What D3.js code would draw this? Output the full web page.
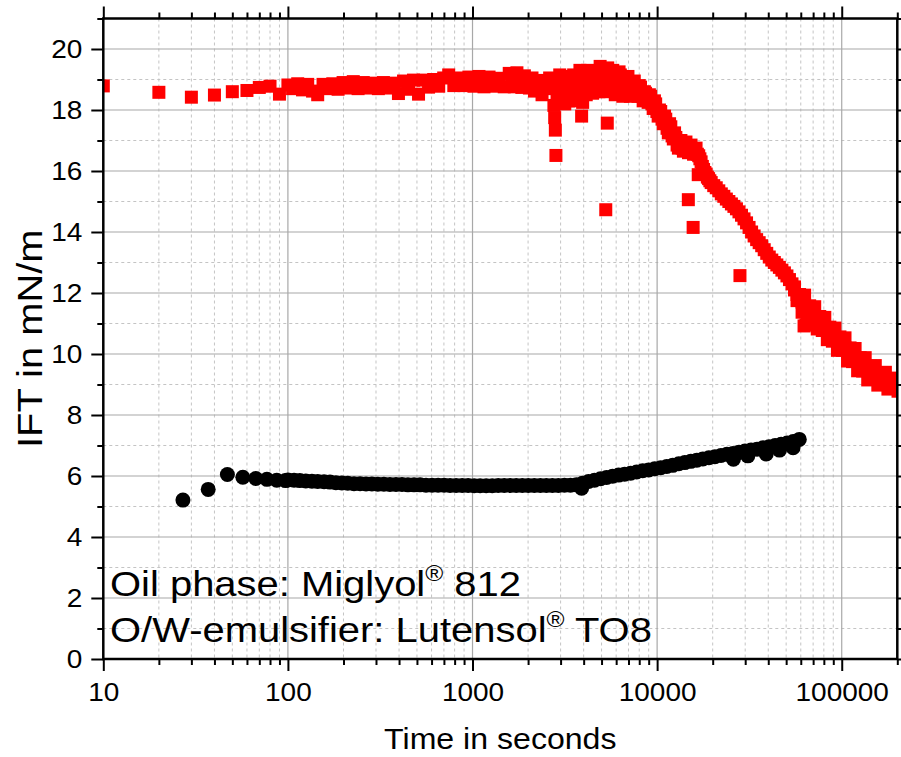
<!DOCTYPE html>
<html><head><meta charset="utf-8">
<script src="https://cdn.jsdelivr.net/npm/d3@7"></script>
<style>
body{margin:0;background:#fff}
svg{display:block}
text{font-family:"Liberation Sans",Arial,Helvetica,sans-serif;fill:#000}
</style>
</head><body>
<svg id="chart" width="901" height="757"></svg>
<script>
// ---------- data ----------
const xTickValues = [10, 100, 1000, 10000, 100000];
const xTickLabels = ["10", "100", "1000", "10000", "100000"];
const yTickValues = [0, 2, 4, 6, 8, 10, 12, 14, 16, 18, 20];
const yTickLabels = ["0", "2", "4", "6", "8", "10", "12", "14", "16", "18", "20"];
const xTitle = "Time in seconds";
const yTitle = "IFT in mN/m";
const note1 = ["Oil phase: Miglyol", "®", " 812"];
const note2 = ["O/W-emulsifier: Lutensol", "®", " TO8"];

// Miglyol 812 series (red squares): [time s, IFT mN/m]
const redSeries = [
 [10,18.79],[20,18.58],[30,18.42],[40,18.49],[50,18.60],[60,18.64],[70,18.74],[80,18.78],[90,18.52],
 [100,18.82],[106,18.70],[113,18.86],[120,18.66],[128,18.84],[136,18.62],[145,18.50],[155,18.84],
 [165,18.70],[175,18.86],[187,18.68],[199,18.90],[212,18.72],[226,18.93],[240,18.70],[256,18.90],
 [272,18.72],[290,18.88],[309,18.70],[329,18.90],[350,18.72],[373,18.88],[397,18.54],[423,18.95],
 [450,18.68],[479,18.98],[510,18.52],[543,18.98],[578,18.75],[616,19.00],[656,18.78],[698,19.05],
 [743,19.15],[792,18.80],[843,19.05],[898,18.80],[956,19.08],[1018,18.78],[1084,19.10],[1154,18.76],
 [1229,19.08],[1309,18.78],[1394,19.04],[1485,18.76],[1581,19.20],[1630,18.95],[1684,18.76],
 [1740,19.22],[1793,19.00],[1850,18.74],[1910,19.12],[1970,18.90],[2034,18.72],[2100,19.05],
 [2166,18.62],[2230,18.95],[2307,18.75],[2380,18.50],[2457,18.97],[2530,18.70],[2617,19.05],
 [2700,18.75],[2760,18.15],[2787,17.75],[2810,17.34],[2830,16.51],[2870,18.55],[2920,18.90],
 [2968,19.15],[3010,18.60],[3060,18.80],[3110,18.35],[3161,18.20],[3210,18.95],[3260,18.60],
 [3310,18.30],[3366,19.10],[3420,18.80],[3470,18.50],[3530,19.15],[3585,18.90],[3640,18.60],
 [3700,18.30],[3760,19.00],[3818,19.30],[3860,18.60],[3900,17.80],[3950,18.25],[4010,19.05],
 [4066,18.75],[4130,18.50],[4200,19.30],[4260,19.00],[4331,18.90],[4400,18.70],[4470,18.55],
 [4540,19.00],[4612,19.25],[4690,18.75],[4760,18.95],[4840,18.60],[4912,19.43],[4990,19.10],
 [5070,18.60],[5150,18.85],[5231,19.00],[5270,14.73],[5310,19.30],[5370,17.57],[5400,19.38],
 [5490,19.05],[5571,18.70],[5660,18.95],[5750,19.30],[5840,19.10],[5933,18.50],[6030,18.75],
 [6130,18.90],[6220,19.25],[6319,19.15],[6420,18.80],[6520,18.45],[6620,18.65],[6730,18.80],
 [6840,19.05],[6950,19.10],[7060,18.75],[7167,18.45],[7280,18.65],[7400,18.85],[7520,18.95],
 [7633,18.60],[7760,18.70],[7880,18.45],[8000,18.80],[8129,18.75],[8300,18.45],[8400,18.30],
 [8530,18.60],[8658,18.55],[8800,18.35],[8940,18.25],[9080,18.50],[9220,18.45],[9370,18.20],
 [9520,18.05],[9670,18.30],[9820,18.20],[9970,17.95],[10130,17.80],[10290,18.00],[10458,17.95],
 [10630,17.70],[10800,17.55],[10970,17.80],[11138,17.70],[11320,17.40],[11500,17.25],[11680,17.55],
 [11862,17.45],[12050,17.15],[12240,17.05],[12430,17.25],[12633,17.10],[12830,16.85],[13040,16.75],
 [13250,16.95],[13454,17.00],[13660,16.75],[13880,16.65],[14100,16.85],[14328,16.95],[14550,16.70],
 [14760,15.06],[14790,16.60],[15020,16.80],[15260,16.85],[15500,16.65],[15670,14.15],[15750,16.55],
 [16000,16.70],[16252,16.75],[16520,16.55],[16700,15.88],[16800,16.50],[17050,16.40],[17308,16.30],
 [17580,16.15],[17850,16.05],[18140,15.95],[18433,15.90],[18720,15.80],[19000,15.75],[19310,15.68],
 [19631,15.62],[20260,15.52],[20907,15.45],[21580,15.35],[22266,15.25],[22980,15.17],[23714,15.08],
 [24470,15.00],[25255,14.92],[26060,14.84],[26897,14.76],[27760,14.66],[28100,12.57],[28645,14.55],
 [29560,14.43],[30507,14.30],[31480,14.15],[32490,14.00],[33530,13.87],[34602,13.75],[35710,13.65],
 [36851,13.55],[38030,13.42],[39246,13.30],[40500,13.18],[41797,13.08],[43140,13.00],[44514,12.92],
 [45940,12.84],[47407,12.75],[48920,12.66],[50489,12.56],[52100,12.44],[53770,12.30],
 // late tail, scattered readings
 [55490,12.20],[57265,11.75],[59100,11.95],[60988,11.37],[62500,10.92],[62940,11.93],[64000,10.95],
 [64952,11.17],[66500,11.00],[67030,11.58],[69174,11.12],[71390,11.55],[73670,10.82],[76030,11.23],
 [78459,10.77],[80970,11.20],[83559,10.47],[86230,10.88],[88990,10.42],[91840,10.85],[94774,10.12],
 [97800,10.56],[100935,10.12],[104170,10.53],[107495,9.77],[110940,10.20],[114483,9.75],
 [118150,10.18],[121924,9.45],[125830,9.88],[129849,9.44],[134000,9.88],[138289,9.15],[142710,9.60],
 [147278,9.19],[151990,9.62],[156851,8.98],[161880,9.39],[167046,9.05],[172370,9.40],[177904,8.85],
 [183600,9.21],[189468,8.87],[195550,9.18],[201783,8.78],
 // late tail, central run
 [55490,12.10],[57265,11.95],[59100,11.80],[60988,11.70],[62940,11.60],[64952,11.50],[67030,11.40],
 [69174,11.30],[71390,11.22],[73670,11.15],[76030,11.05],[78459,10.95],[80970,10.87],[83559,10.80],
 [86230,10.70],[88990,10.60],[91840,10.52],[94774,10.45],[97800,10.38],[100935,10.30],[104170,10.20],
 [107495,10.10],[110940,10.02],[114483,9.93],[118150,9.85],[121924,9.78],[125830,9.70],[129849,9.62],
 [134000,9.55],[138289,9.48],[142710,9.42],[147278,9.37],[151990,9.32],[156851,9.28],[161880,9.24],
 [167046,9.20],[172370,9.15],[177904,9.10],[183600,9.06],[189468,9.02],[195550,8.98],[201783,8.95]
];

// Lutensol TO8 series (black circles): [time s, IFT mN/m]
const blackSeries = [
 [27,5.21],[37,5.56],[47,6.05],[57,5.96],[67,5.92],[77,5.89],[87,5.86],[97,5.85],
 [100,5.87],[108,5.86],[116,5.85],[125,5.84],[135,5.83],[145,5.82],[157,5.81],[169,5.80],[182,5.78],
 [196,5.77],[211,5.76],[228,5.75],[246,5.75],[265,5.74],[285,5.74],[307,5.73],[331,5.73],[357,5.72],
 [385,5.72],[415,5.72],[447,5.71],[482,5.71],[520,5.71],[560,5.70],[604,5.70],[651,5.70],[702,5.70],
 [756,5.69],[815,5.69],[879,5.69],[947,5.69],[1021,5.68],[1100,5.68],[1186,5.68],[1279,5.68],
 [1378,5.69],[1486,5.69],[1601,5.69],[1726,5.69],[1861,5.69],[2006,5.69],[2162,5.69],[2331,5.69],
 [2512,5.69],[2708,5.69],[2919,5.69],[3147,5.70],[3392,5.70],[3657,5.71],[3900,5.60],[3942,5.76],
 [4249,5.82],[4580,5.86],[4937,5.91],[5322,5.95],[5737,5.99],[6184,6.03],[6666,6.06],[7186,6.09],
 [7746,6.13],[8350,6.17],[9001,6.20],[9703,6.24],[10459,6.27],[11275,6.31],[12154,6.35],[13102,6.40],
 [14124,6.44],[15226,6.48],[16413,6.52],[17693,6.56],[19073,6.60],[20561,6.63],[22165,6.67],
 [23893,6.71],[25757,6.74],[25900,6.55],[27766,6.78],[29932,6.82],[31000,6.66],[32267,6.85],
 [34783,6.88],[37496,6.93],[39000,6.72],[40421,6.96],[43574,7.00],[46000,6.85],[46972,7.04],
 [50636,7.08],[54500,6.93],[54586,7.13],[58900,7.20]
];

// ---------- layout ----------
const plot = {left: 103.3, right: 897.3, top: 18.5, bottom: 659};
const FONT = '"Liberation Sans",Arial,sans-serif';
const svg = d3.select("#chart");

const x = d3.scaleLog().domain([10, 200000]).range([plot.left, plot.right]);
const y = d3.scaleLinear().domain([0, 21]).range([plot.bottom, plot.top]);

const xMinor = [];
for (let d = 10; d <= 100000; d *= 10) for (let k = 2; k <= 9; k++) if (d * k <= 200000) xMinor.push(d * k);
const yMinor = d3.range(1, 22, 2);

// grid
const grid = svg.append("g");
grid.selectAll(".gxm").data(xMinor.filter(v => v < 200000)).join("line")
  .attr("x1", d => x(d)).attr("x2", d => x(d)).attr("y1", plot.top).attr("y2", plot.bottom)
  .attr("stroke", "#c4c4c4").attr("stroke-width", 1).attr("stroke-dasharray", "3,3");
grid.selectAll(".gym").data(yMinor.filter(v => v < 21)).join("line")
  .attr("x1", plot.left).attr("x2", plot.right).attr("y1", d => y(d)).attr("y2", d => y(d))
  .attr("stroke", "#c4c4c4").attr("stroke-width", 1).attr("stroke-dasharray", "3,3");
grid.selectAll(".gxM").data(xTickValues.slice(1)).join("line")
  .attr("x1", d => x(d)).attr("x2", d => x(d)).attr("y1", plot.top).attr("y2", plot.bottom)
  .attr("stroke", "#a8a8a8").attr("stroke-width", 1.2);
grid.selectAll(".gyM").data(yTickValues.slice(1)).join("line")
  .attr("x1", plot.left).attr("x2", plot.right).attr("y1", d => y(d)).attr("y2", d => y(d))
  .attr("stroke", "#a8a8a8").attr("stroke-width", 1.2);

svg.append("clipPath").attr("id", "clip").append("rect")
  .attr("x", plot.left).attr("y", plot.top)
  .attr("width", plot.right - plot.left).attr("height", plot.bottom - plot.top);

const marks = svg.append("g").attr("clip-path", "url(#clip)");
const sq = 13;
marks.selectAll("rect.red").data(redSeries).join("rect").attr("class", "red")
  .attr("x", d => x(d[0]) - sq / 2).attr("y", d => y(d[1]) - sq / 2)
  .attr("width", sq).attr("height", sq).attr("fill", "#ff0000");
marks.selectAll("circle.blk").data(blackSeries).join("circle").attr("class", "blk")
  .attr("cx", d => x(d[0])).attr("cy", d => y(d[1])).attr("r", 7.5).attr("fill", "#000");

// axes
const fmtX = d => xTickLabels[xTickValues.indexOf(d)];
const fmtY = d => yTickLabels[yTickValues.indexOf(d)];
function styleAxis(g) {
  g.select(".domain").remove();
  g.selectAll(".tick line").attr("stroke", "#000").attr("stroke-width", 2);
}
const major = 12, minor = 6;
const tickFont = 25, tickSX = 1.12;
svg.append("g").attr("transform", `translate(0,${plot.bottom})`)
  .call(d3.axisBottom(x).tickValues(xMinor).tickSize(minor).tickFormat("")).call(styleAxis);
svg.append("g").attr("transform", `translate(0,${plot.bottom})`)
  .call(d3.axisBottom(x).tickValues(xTickValues).tickSize(major).tickPadding(12).tickFormat(fmtX))
  .call(styleAxis)
  .call(g => g.selectAll("text").attr("font-size", tickFont).attr("font-family", FONT)
    .attr("transform", `scale(${tickSX},1)`));
svg.append("g").attr("transform", `translate(0,${plot.top})`)
  .call(d3.axisTop(x).tickValues(xMinor).tickSize(minor).tickFormat("")).call(styleAxis);
svg.append("g").attr("transform", `translate(0,${plot.top})`)
  .call(d3.axisTop(x).tickValues(xTickValues).tickSize(major).tickFormat("")).call(styleAxis);
svg.append("g").attr("transform", `translate(${plot.left},0)`)
  .call(d3.axisLeft(y).tickValues(yMinor).tickSize(minor).tickFormat("")).call(styleAxis);
svg.append("g").attr("transform", `translate(${plot.left},0)`)
  .call(d3.axisLeft(y).tickValues(yTickValues).tickSize(major).tickPadding(9).tickFormat(fmtY))
  .call(styleAxis)
  .call(g => g.selectAll("text").attr("font-size", tickFont).attr("font-family", FONT)
    .attr("x", -21 / tickSX).attr("transform", `scale(${tickSX},1)`));
svg.append("g").attr("transform", `translate(${plot.right},0)`)
  .call(d3.axisRight(y).tickValues(yMinor).tickSize(minor).tickFormat("")).call(styleAxis);
svg.append("g").attr("transform", `translate(${plot.right},0)`)
  .call(d3.axisRight(y).tickValues(yTickValues).tickSize(major).tickFormat("")).call(styleAxis);

svg.append("rect").attr("x", plot.left).attr("y", plot.top)
  .attr("width", plot.right - plot.left).attr("height", plot.bottom - plot.top)
  .attr("fill", "none").attr("stroke", "#000").attr("stroke-width", 2.5);

// titles
svg.append("g").attr("transform", `translate(${(plot.left + plot.right) / 2},749) scale(1.07,1)`)
  .append("text").attr("text-anchor", "middle").attr("font-size", 30).text(xTitle);
svg.append("g").attr("transform", `translate(42,${(plot.top + plot.bottom) / 2}) rotate(-90) scale(1.14,1)`)
  .append("text").attr("text-anchor", "middle").attr("font-size", 35).text(yTitle);

// notes
function note(parts, yPos) {
  const t = svg.append("g").attr("transform", `translate(110,${yPos}) scale(1.11,1)`)
    .append("text").attr("font-size", 36);
  t.append("tspan").text(parts[0]);
  t.append("tspan").attr("dy", -15).attr("font-size", 22).text(parts[1]);
  t.append("tspan").attr("dy", 15).text(parts[2]);
}
note(note1, 596);
note(note2, 642);
</script>
</body></html>
